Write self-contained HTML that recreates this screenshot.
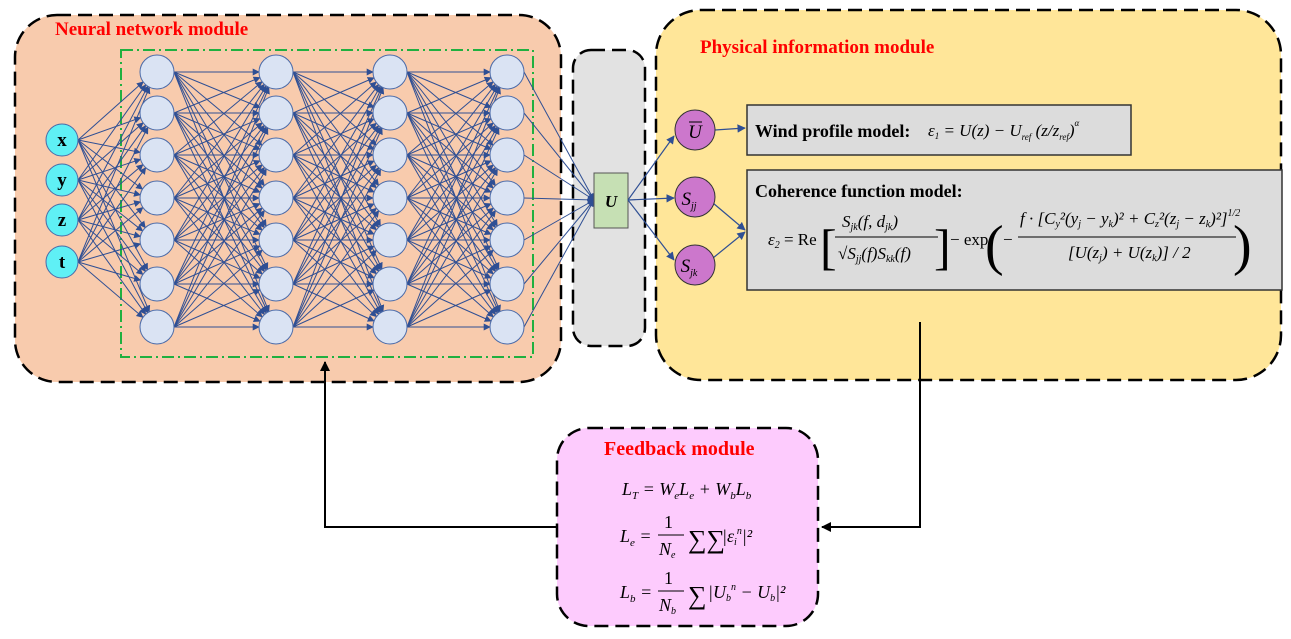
<!DOCTYPE html>
<html><head><meta charset="utf-8"><style>
body{margin:0;background:#fff;width:1291px;height:639px;overflow:hidden}
svg{display:block}
text{font-family:"Liberation Serif",serif}
</style></head><body>
<svg id="s" width="1291" height="639" xmlns="http://www.w3.org/2000/svg">
<defs>
<marker id="a" viewBox="0 0 10 10" refX="9" refY="5" markerWidth="7" markerHeight="7" orient="auto"><path d="M0,0L10,5L0,10z" fill="#2f4f94"/></marker>
<marker id="b" viewBox="0 0 10 10" refX="9" refY="5" markerWidth="5" markerHeight="5" orient="auto"><path d="M0,0L10,5L0,10z" fill="#000"/></marker>
</defs>
<rect x="15" y="15" width="546" height="367" rx="42" fill="#f8cbad" stroke="#000" stroke-width="2.5" stroke-dasharray="14,7"/>
<rect x="573" y="50" width="72" height="296" rx="18" fill="#e2e2e2" stroke="#000" stroke-width="2.5" stroke-dasharray="14,7"/>
<rect x="656" y="10" width="625" height="370" rx="45" fill="#ffe699" stroke="#000" stroke-width="2.5" stroke-dasharray="14,7"/>
<rect x="557" y="428" width="261" height="198" rx="32" fill="#fdcbfd" stroke="#000" stroke-width="2.5" stroke-dasharray="14,7"/>
<rect x="121" y="50" width="412" height="307" fill="none" stroke="#20b040" stroke-width="2" stroke-dasharray="12,4,2,4"/>
<text x="55" y="35" fill="#f00" font-size="19" font-weight="bold">Neural network module</text>
<text x="700" y="53" fill="#f00" font-size="19" font-weight="bold">Physical information module</text>
<text x="604" y="455" fill="#f00" font-size="20" font-weight="bold">Feedback module</text>
<g id="net" stroke="#2f4f94" stroke-width="1"></g>
<g id="nodes"></g>
<rect x="594" y="173" width="34" height="55" fill="#c6e0b4" stroke="#555"/>
<text x="611" y="207" text-anchor="middle" font-size="17" font-weight="bold" font-style="italic">U</text>
<g stroke="#2f4f94" stroke-width="1.2" fill="none">
<line x1="628" y1="200" x2="674" y2="136" marker-end="url(#a)"/>
<line x1="628" y1="200" x2="674" y2="198" marker-end="url(#a)"/>
<line x1="628" y1="200" x2="674" y2="260" marker-end="url(#a)"/>
<line x1="715" y1="130" x2="745" y2="128" marker-end="url(#a)"/>
<line x1="713" y1="203" x2="745" y2="230" marker-end="url(#a)"/>
<line x1="713" y1="258" x2="745" y2="232" marker-end="url(#a)"/>
</g>
<g fill="#cc77cc" stroke="#333">
<circle cx="695" cy="130" r="20"/><circle cx="695" cy="197" r="20"/><circle cx="695" cy="265" r="20"/>
</g>
<text x="695" y="138" text-anchor="middle" font-size="19" font-style="italic">U</text>
<line x1="689" y1="122" x2="702" y2="122" stroke="#000"/>
<text x="689" y="205" text-anchor="middle" font-size="19" font-style="italic">S<tspan font-size="10" dy="4">jj</tspan></text>
<text x="689" y="272" text-anchor="middle" font-size="19" font-style="italic">S<tspan font-size="10" dy="4">jk</tspan></text>
<rect x="747" y="105" width="384" height="50" fill="#dcdcdc" stroke="#333" stroke-width="1.5"/>
<text x="755" y="137" font-size="18" font-weight="bold">Wind profile model:</text>
<text x="928" y="136" font-size="17" font-style="italic">ε<tspan font-size="9" dy="3">1</tspan><tspan dy="-3"> = U(z) − U</tspan><tspan font-size="9" dy="4">ref</tspan><tspan dy="-4"> (z/z</tspan><tspan font-size="9" dy="4">ref</tspan><tspan dy="-4">)</tspan><tspan font-size="9" dy="-10">α</tspan></text>
<rect x="747" y="170" width="535" height="120" fill="#dcdcdc" stroke="#333" stroke-width="1.5"/>
<text x="755" y="197" font-size="18" font-weight="bold">Coherence function model:</text>
<g font-size="17" font-style="italic">
<text x="768" y="245">ε<tspan font-size="10" dy="3">2</tspan><tspan dy="-3" font-style="normal"> = Re</tspan></text>
<text x="820" y="264" font-size="50" font-style="normal">[</text>
<text x="842" y="227">S<tspan font-size="10" dy="3">jk</tspan><tspan dy="-3">(f, d</tspan><tspan font-size="10" dy="3">jk</tspan><tspan dy="-3">)</tspan></text>
<line x1="835" y1="237" x2="938" y2="237" stroke="#000"/>
<text x="838" y="259">√S<tspan font-size="10" dy="3">jj</tspan><tspan dy="-3">(f)S</tspan><tspan font-size="10" dy="3">kk</tspan><tspan dy="-3">(f)</tspan></text>
<text x="934" y="264" font-size="50" font-style="normal">]</text>
<text x="950" y="245" font-style="normal">− exp</text>
<text x="985" y="264" font-size="56" font-style="normal">(</text>
<text x="1003" y="245" font-style="normal">−</text>
<text x="1020" y="224">f · [C<tspan font-size="10" dy="3">y</tspan><tspan dy="-3">²(y</tspan><tspan font-size="10" dy="3">j</tspan><tspan dy="-3"> − y</tspan><tspan font-size="10" dy="3">k</tspan><tspan dy="-3">)² + C</tspan><tspan font-size="10" dy="3">z</tspan><tspan dy="-3">²(z</tspan><tspan font-size="10" dy="3">j</tspan><tspan dy="-3"> − z</tspan><tspan font-size="10" dy="3">k</tspan><tspan dy="-3">)²]</tspan><tspan font-size="10" dy="-8">1/2</tspan></text>
<line x1="1018" y1="237" x2="1236" y2="237" stroke="#000"/>
<text x="1068" y="258">[U(z<tspan font-size="10" dy="3">j</tspan><tspan dy="-3">) + U(z</tspan><tspan font-size="10" dy="3">k</tspan><tspan dy="-3">)] / 2</tspan></text>
<text x="1233" y="264" font-size="56" font-style="normal">)</text>
</g>
<g font-size="18" font-style="italic">
<text x="622" y="495">L<tspan font-size="11" dy="4">T</tspan><tspan dy="-4"> = W</tspan><tspan font-size="11" dy="4">e</tspan><tspan dy="-4">L</tspan><tspan font-size="11" dy="4">e</tspan><tspan dy="-4"> + W</tspan><tspan font-size="11" dy="4">b</tspan><tspan dy="-4">L</tspan><tspan font-size="11" dy="4">b</tspan></text>
<text x="620" y="542">L<tspan font-size="11" dy="4">e</tspan><tspan dy="-4"> =</tspan></text>
<text x="664" y="528" font-style="normal">1</text><line x1="658" y1="535" x2="684" y2="535" stroke="#000"/><text x="659" y="555">N<tspan font-size="10" dy="3">e</tspan></text>
<text x="688" y="548" font-size="26" font-style="normal">∑∑</text>
<text x="722" y="542">|ε<tspan font-size="10" dy="3">i</tspan><tspan font-size="10" dy="-11">n</tspan><tspan dy="8">|²</tspan></text>
<text x="620" y="598">L<tspan font-size="11" dy="4">b</tspan><tspan dy="-4"> =</tspan></text>
<text x="664" y="584" font-style="normal">1</text><line x1="658" y1="591" x2="684" y2="591" stroke="#000"/><text x="659" y="611">N<tspan font-size="10" dy="3">b</tspan></text>
<text x="688" y="604" font-size="26" font-style="normal">∑</text>
<text x="708" y="598">|U<tspan font-size="10" dy="3">b</tspan><tspan font-size="10" dy="-11">n</tspan><tspan dy="8"> − U</tspan><tspan font-size="10" dy="3">b</tspan><tspan dy="-3">|²</tspan></text>
</g>
<polyline points="920,322 920,527 822,527" fill="none" stroke="#000" stroke-width="2" marker-end="url(#b)"/>
<polyline points="557,527 325,527 325,362" fill="none" stroke="#000" stroke-width="2" marker-end="url(#b)"/>
</svg>
<script>
var ns="http://www.w3.org/2000/svg";
var net=document.getElementById("net"),nd=document.getElementById("nodes");
var inp=[140,180,220,262],rows=[72,113,155,198,240,284,327],cols=[157,276,390,507];
function ln(x1,y1,x2,y2,m){var l=document.createElementNS(ns,"line");l.setAttribute("x1",x1);l.setAttribute("y1",y1);l.setAttribute("x2",x2);l.setAttribute("y2",y2);if(m)l.setAttribute("marker-end","url(#a)");net.appendChild(l);}
inp.forEach(function(y){rows.forEach(function(y2){var dx=cols[0]-62,dy=y2-y,d=Math.hypot(dx,dy);ln(78,y,cols[0]-17*dx/d,y2-17*dy/d,1);});});
for(var c=0;c<3;c++)rows.forEach(function(y){rows.forEach(function(y2){var dx=cols[c+1]-cols[c],dy=y2-y,d=Math.hypot(dx,dy);ln(cols[c]+17,y,cols[c+1]-17*dx/d,y2-17*dy/d,1);});});
rows.forEach(function(y){ln(524,y,594,200,1);});
function ci(x,y,r,f){var e=document.createElementNS(ns,"circle");e.setAttribute("cx",x);e.setAttribute("cy",y);e.setAttribute("r",r);e.setAttribute("fill",f);e.setAttribute("stroke","#4a6aa8");nd.appendChild(e);}
cols.forEach(function(x){rows.forEach(function(y){ci(x,y,17,"#dae3f3");});});
var L=["x","y","z","t"];
inp.forEach(function(y,i){ci(62,y,16,"#5ff0f5");var t=document.createElementNS(ns,"text");t.setAttribute("x",62);t.setAttribute("y",y+6);t.setAttribute("text-anchor","middle");t.setAttribute("font-size","19");t.setAttribute("font-weight","bold");t.textContent=L[i];nd.appendChild(t);});
</script>
</body></html>
